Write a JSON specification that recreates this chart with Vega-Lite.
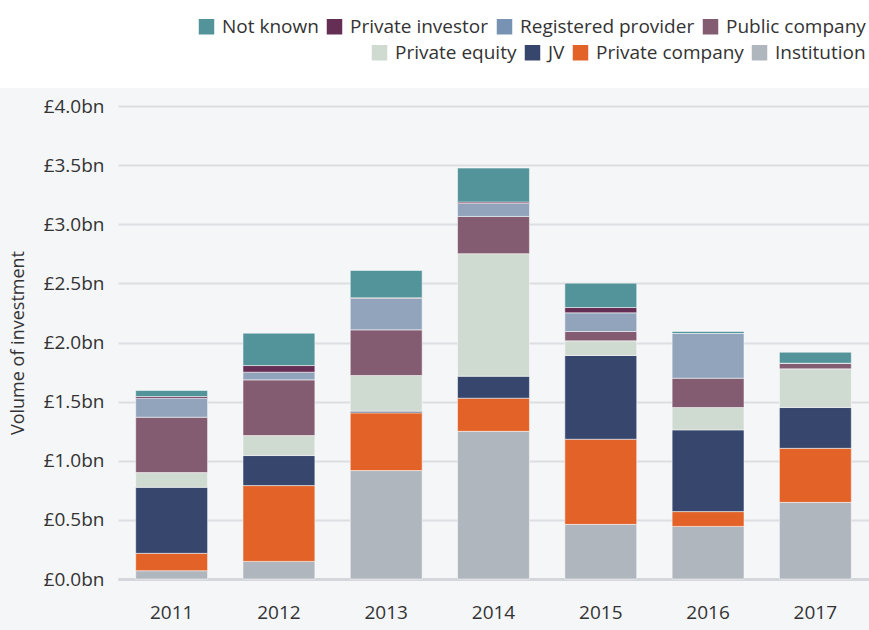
{
  "$schema": "https://vega.github.io/schema/vega-lite/v6.json",
  "background": "#f5f6f8",
  "padding": {"left": 0, "top": 0, "right": 0, "bottom": 8},
  "config": {
    "font": "Open Sans",
    "view": {"stroke": null},
    "legend": {
      "direction": "horizontal",
      "offset": 3,
      "labelFontSize": 19,
      "labelColor": "#333333",
      "labelLimit": 400,
      "symbolType": "square",
      "symbolSize": 240,
      "symbolOpacity": 1,
      "symbolStrokeWidth": 0,
      "columnPadding": 6,
      "labelOffset": 6
    }
  },
  "datasets": {
    "inv": [
      {"year": "2011", "type": "Institution", "value": 0.07},
      {"year": "2011", "type": "Private company", "value": 0.147},
      {"year": "2011", "type": "JV", "value": 0.558},
      {"year": "2011", "type": "Private equity", "value": 0.125},
      {"year": "2011", "type": "Public company", "value": 0.468},
      {"year": "2011", "type": "Registered provider", "value": 0.161},
      {"year": "2011", "type": "Private investor", "value": 0.014},
      {"year": "2011", "type": "Not known", "value": 0.051},
      {"year": "2012", "type": "Institution", "value": 0.149},
      {"year": "2012", "type": "Private company", "value": 0.641},
      {"year": "2012", "type": "JV", "value": 0.254},
      {"year": "2012", "type": "Private equity", "value": 0.169},
      {"year": "2012", "type": "Public company", "value": 0.471},
      {"year": "2012", "type": "Registered provider", "value": 0.065},
      {"year": "2012", "type": "Private investor", "value": 0.056},
      {"year": "2012", "type": "Not known", "value": 0.274},
      {"year": "2013", "type": "Institution", "value": 0.917},
      {"year": "2013", "type": "Private company", "value": 0.488},
      {"year": "2013", "type": "JV", "value": 0.014},
      {"year": "2013", "type": "Private equity", "value": 0.302},
      {"year": "2013", "type": "Public company", "value": 0.386},
      {"year": "2013", "type": "Registered provider", "value": 0.266},
      {"year": "2013", "type": "Private investor", "value": 0.005},
      {"year": "2013", "type": "Not known", "value": 0.231},
      {"year": "2014", "type": "Institution", "value": 1.249},
      {"year": "2014", "type": "Private company", "value": 0.28},
      {"year": "2014", "type": "JV", "value": 0.186},
      {"year": "2014", "type": "Private equity", "value": 1.036},
      {"year": "2014", "type": "Public company", "value": 0.315},
      {"year": "2014", "type": "Registered provider", "value": 0.11},
      {"year": "2014", "type": "Private investor", "value": 0.012},
      {"year": "2014", "type": "Not known", "value": 0.287},
      {"year": "2015", "type": "Institution", "value": 0.462},
      {"year": "2015", "type": "Private company", "value": 0.72},
      {"year": "2015", "type": "JV", "value": 0.708},
      {"year": "2015", "type": "Private equity", "value": 0.124},
      {"year": "2015", "type": "Public company", "value": 0.079},
      {"year": "2015", "type": "Registered provider", "value": 0.158},
      {"year": "2015", "type": "Private investor", "value": 0.045},
      {"year": "2015", "type": "Not known", "value": 0.206},
      {"year": "2016", "type": "Institution", "value": 0.445},
      {"year": "2016", "type": "Private company", "value": 0.125},
      {"year": "2016", "type": "JV", "value": 0.691},
      {"year": "2016", "type": "Private equity", "value": 0.189},
      {"year": "2016", "type": "Public company", "value": 0.248},
      {"year": "2016", "type": "Registered provider", "value": 0.378},
      {"year": "2016", "type": "Private investor", "value": 0},
      {"year": "2016", "type": "Not known", "value": 0.017},
      {"year": "2017", "type": "Institution", "value": 0.648},
      {"year": "2017", "type": "Private company", "value": 0.457},
      {"year": "2017", "type": "JV", "value": 0.345},
      {"year": "2017", "type": "Private equity", "value": 0.327},
      {"year": "2017", "type": "Public company", "value": 0.048},
      {"year": "2017", "type": "Registered provider", "value": 0},
      {"year": "2017", "type": "Private investor", "value": 0},
      {"year": "2017", "type": "Not known", "value": 0.093}
    ]
  },
  "resolve": {"scale": {"color": "independent"}, "legend": {"color": "independent"}},
  "spacing": 9,
  "vconcat": [
    {
      "spacing": 0,
      "resolve": {"scale": {"color": "independent"}, "legend": {"color": "independent"}},
      "vconcat": [
        {
          "width": 869,
          "height": 40,
          "view": {"fill": "white", "stroke": null},
          "data": {"name": "inv"},
          "transform": [{"filter": {"field": "type", "oneOf": ["Not known", "Private investor", "Registered provider", "Public company"]}}],
          "mark": {"type": "square", "opacity": 0},
          "encoding": {
            "color": {
              "field": "type", "type": "nominal",
              "sort": ["Not known", "Private investor", "Registered provider", "Public company"],
              "scale": {"domain": ["Not known", "Private investor", "Registered provider", "Public company"], "range": ["#53939a", "#652e55", "#7792b2", "#845c72"]},
              "legend": {"title": null, "orient": "bottom-right"}
            }
          }
        },
        {
          "width": 869,
          "height": 48,
          "view": {"fill": "white", "stroke": null},
          "data": {"name": "inv"},
          "transform": [{"filter": {"field": "type", "oneOf": ["Private equity", "JV", "Private company", "Institution"]}}],
          "mark": {"type": "square", "opacity": 0},
          "encoding": {
            "color": {
              "field": "type", "type": "nominal",
              "sort": ["Private equity", "JV", "Private company", "Institution"],
              "scale": {"domain": ["Private equity", "JV", "Private company", "Institution"], "range": ["#cfdad1", "#36466d", "#e26228", "#b0b6be"]},
              "legend": {"title": null, "orient": "top-right"}
            }
          }
        }
      ]
    },
    {
      "width": 869,
      "height": 473,
      "data": {"name": "inv"},
      "transform": [
        {"calculate": "indexof(['Institution', 'Private company', 'JV', 'Private equity', 'Public company', 'Registered provider', 'Private investor', 'Not known'], datum.type)", "as": "stackOrder"}
      ],
      "mark": {"type": "bar", "stroke": "#ffffff", "strokeWidth": 1, "strokeOpacity": 0.5},
      "encoding": {
        "x": {
          "field": "year", "type": "ordinal",
          "scale": {"range": [118, 869], "paddingInner": 0.33, "paddingOuter": 0.165},
          "axis": {"title": null, "labelAngle": 0, "ticks": false, "domain": true, "domainColor": "#d3d6db", "domainWidth": 3, "labelFontSize": 19, "labelColor": "#333333", "labelPadding": 24, "grid": false}
        },
        "y": {
          "field": "value", "type": "quantitative", "stack": "zero",
          "scale": {"domain": [0, 4], "nice": false},
          "axis": {
            "values": [0, 0.5, 1, 1.5, 2, 2.5, 3, 3.5, 4],
            "labelExpr": "'£' + format(datum.value, '.1f') + 'bn'",
            "title": "Volume of investment",
            "titleFontSize": 18, "titleFontWeight": "normal", "titleColor": "#333333",
            "titleX": -91,
            "offset": -118,
            "labelFontSize": 19, "labelColor": "#333333",
            "ticks": false, "labelPadding": 14,
            "domain": false, "gridColor": "#dcdee2", "gridWidth": 2
          }
        },
        "color": {
          "field": "type", "type": "nominal",
          "scale": {
            "domain": ["Not known", "Private investor", "Registered provider", "Public company", "Private equity", "JV", "Private company", "Institution"],
            "range": ["#53939a", "#652e55", "#91a4bc", "#845c72", "#cfdad1", "#36466d", "#e26228", "#b0b6be"]
          },
          "legend": null
        },
        "order": {"field": "stackOrder", "type": "quantitative", "sort": "ascending"}
      }
    }
  ]
}
